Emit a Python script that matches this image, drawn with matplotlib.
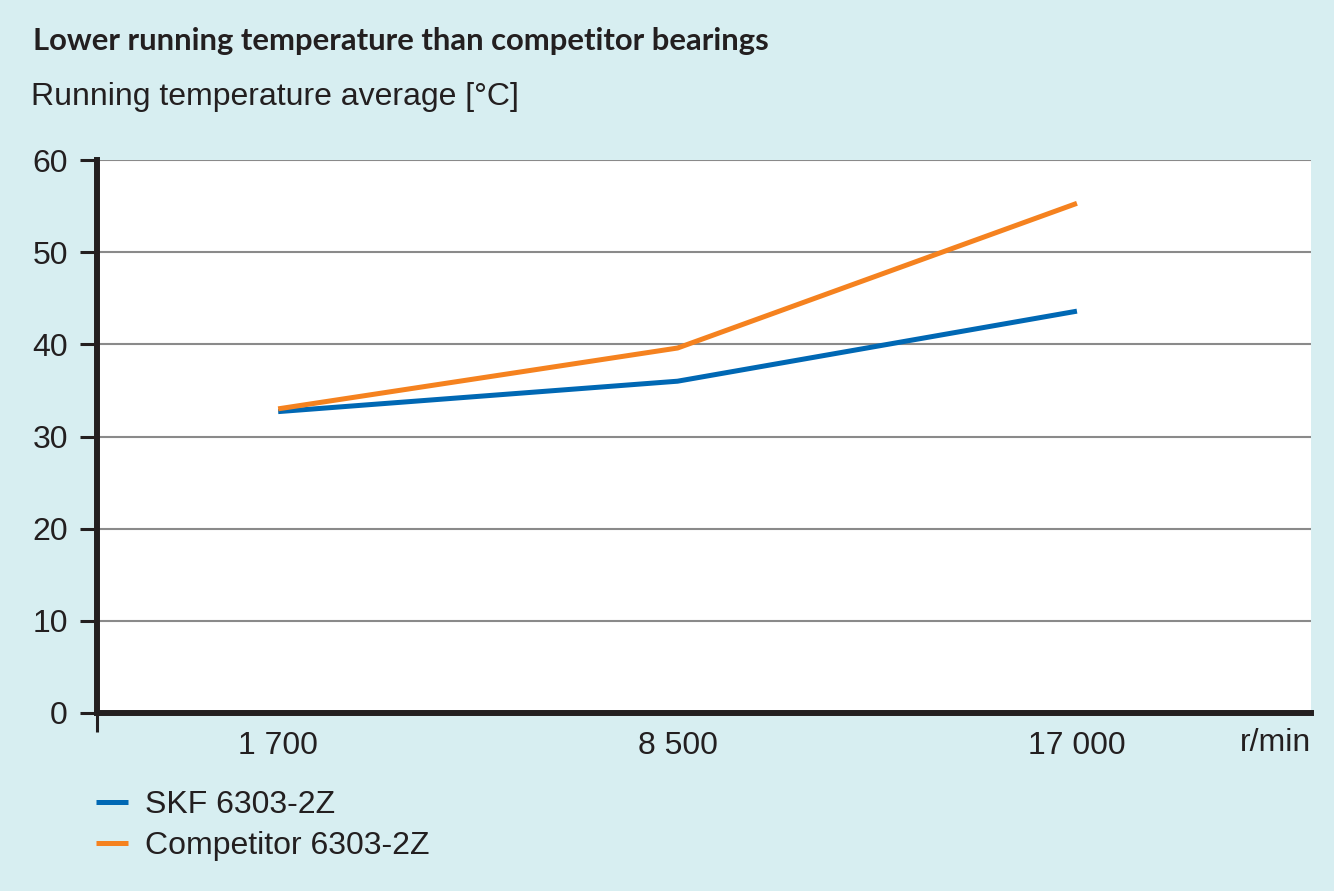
import matplotlib
matplotlib.use('Agg')
import matplotlib.pyplot as plt

# values
speeds = ['1 700', '8 500', '17 000']
skf_temp = [32.7, 36.0, 43.6]
competitor_temp = [33.0, 39.6, 55.3]
y_ticks = [0, 10, 20, 30, 40, 50, 60]

BG = '#d7eef1'
BLUE = '#0068b4'
ORANGE = '#f5821f'
TEXT = '#231f20'
FS = 23

W, H = 1334, 891
fig = plt.figure(figsize=(W / 100, H / 100), dpi=100, facecolor=BG)
ax = fig.add_axes([97 / W, 1 - 713 / H, (1311 - 97) / W, (713 - 160) / H])
ax.set_facecolor('white')

x = range(len(speeds))
ax.plot(x, skf_temp, color=BLUE, lw=3.6, label='SKF 6303-2Z', solid_capstyle='butt', zorder=3)
ax.plot(x, competitor_temp, color=ORANGE, lw=3.6, label='Competitor 6303-2Z', solid_capstyle='butt', zorder=3)

ax.set_xlim(-0.4536, 2.586)
ax.set_ylim(0, 60)
ax.set_yticks(y_ticks)
ax.set_xticks(list(x))
ax.set_xticklabels(speeds)
ax.grid(axis='y', color='#8a8a8a', lw=1.5)
ax.set_axisbelow(True)

for side in ['top', 'right']:
    ax.spines[side].set_visible(False)
for side in ['left', 'bottom']:
    ax.spines[side].set_linewidth(4.3)
    ax.spines[side].set_color(TEXT)

ax.tick_params(axis='y', direction='out', length=12, width=2.2, color=TEXT,
               labelsize=FS, labelcolor=TEXT, pad=9)
ax.tick_params(axis='x', length=0, labelsize=FS, labelcolor=TEXT, pad=13)
for lbl in ax.get_xticklabels() + ax.get_yticklabels():
    lbl.set_fontfamily('Liberation Sans')

# left spine runs a little below the x axis
ax.plot([0, 0], [0, -0.034], transform=ax.transAxes, color=TEXT, lw=2.2,
        clip_on=False, solid_capstyle='butt')

ax.text(1.0, -0.055, 'r/min', transform=ax.transAxes, ha='right', va='center',
        fontsize=FS, color=TEXT, family='Liberation Sans')

fig.text(33 / W, 1 - 41 / H, 'Lower running temperature than competitor bearings',
         ha='left', va='center', fontsize=22.3, fontweight='bold', color=TEXT, family='Lato')
fig.text(31 / W, 1 - 97 / H, 'Running temperature average [°C]',
         ha='left', va='center', fontsize=FS, color=TEXT, family='Liberation Sans')

leg = fig.legend(loc='upper left', bbox_to_anchor=(96 / W, 1 - 790 / H), frameon=False,
                 borderpad=0, borderaxespad=0,
                 handlelength=1.0, handletextpad=0.53, labelspacing=0.35,
                 prop={'family': 'Liberation Sans', 'size': FS})
for t in leg.get_texts():
    t.set_color(TEXT)

fig.savefig('out.png', dpi=100, facecolor=BG)
